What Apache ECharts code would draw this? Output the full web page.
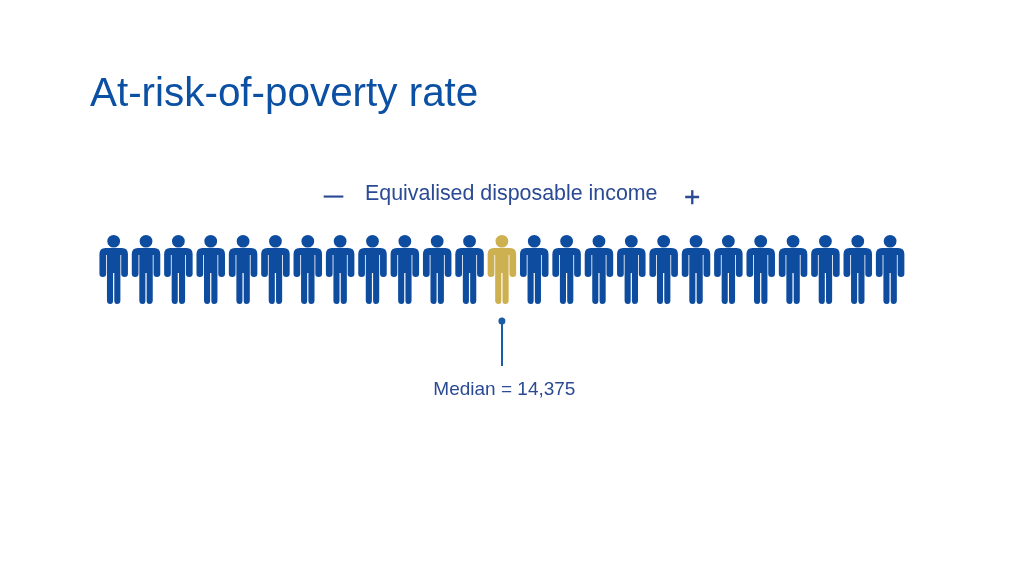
<!DOCTYPE html>
<html>
<head>
<meta charset="utf-8">
<title>At-risk-of-poverty rate</title>
<script src="https://cdn.jsdelivr.net/npm/echarts@6/dist/echarts.min.js"></script>
<style>
  html, body { margin: 0; padding: 0; background: #fff; }
  #chart { width: 1024px; height: 576px; }
</style>
</head>
<body>
<div id="chart"></div>
<script>
// 25 people ordered by income, the 13th one is the median
var people = ['1','2','3','4','5','6','7','8','9','10','11','12','13','14','15','16','17','18','19','20','21','22','23','24','25'];
var rowLevel = [34.5,34.5,34.5,34.5,34.5,34.5,34.5,34.5,34.5,34.5,34.5,34.5,34.5,34.5,34.5,34.5,34.5,34.5,34.5,34.5,34.5,34.5,34.5,34.5,34.5];
var medianPerson = '13';
var medianLabel = 'Median = 14,375';
var pointerRange = [86, 131];

var blue = '#0d4c9e';
var gold = '#cdb04f';
var textBlue = '#2b4a94';
var font = '"Liberation Sans", Arial, sans-serif';

var personPath = 'path://M6 13H22Q28 13 28 19V39Q28 42 24.7 42Q21.4 42 21.4 39V20H20.6V65.5Q20.6 69 17.2 69Q14.6 69 14.6 65.5V38H13.4V65.5Q13.4 69 10.8 69Q7.4 69 7.4 65.5V20H6.6V39Q6.6 42 3.3 42Q0 42 0 39V19Q0 13 6 13Z' +
  'M14 0A6.3 6.3 0 1 1 14 12.6A6.3 6.3 0 1 1 14 0Z';

function textOf(size, color) {
  return { color: color, fontSize: size, fontWeight: 'normal', fontFamily: font };
}

// the minus and plus are heavier than the regular weight
function heavyText(size, color, stroke) {
  var style = textOf(size, color);
  style.textBorderColor = color;
  style.textBorderWidth = stroke;
  return style;
}

var chart = echarts.init(document.getElementById('chart'));

chart.setOption({
  animation: false,
  backgroundColor: '#fff',
  title: [
    { text: 'At-risk-of-poverty rate', left: 85, top: 70, textStyle: textOf(40.4, '#0b50a3') },
    { text: 'Equivalised disposable income', left: 360, top: 179, textStyle: textOf(21.4, textBlue) },
    { text: '\u2014', left: 319, top: 181, textStyle: heavyText(19, textBlue, 0.7) },
    { text: '+', left: 679, top: 179, textStyle: heavyText(28, textBlue, 0.3) }
  ],
  grid: { left: 97.5, top: 235, width: 808.8, height: 131 },
  xAxis: { type: 'category', data: people, show: false },
  yAxis: { type: 'value', min: 0, max: 131, inverse: true, show: false },
  series: [{
    type: 'scatter',
    silent: true,
    clip: false,
    symbol: personPath,
    symbolSize: [28.5, 69],
    itemStyle: { opacity: 1 },
    data: rowLevel.map(function (v, i) {
      return {
        value: [people[i], v],
        itemStyle: { color: people[i] === medianPerson ? gold : blue, opacity: 1 }
      };
    }),
    markLine: {
      silent: true,
      animation: false,
      symbol: ['circle', 'none'],
      symbolSize: 7,
      lineStyle: { color: '#1a5ca6', width: 2, type: 'solid', opacity: 1 },
      label: {
        show: true,
        position: 'end',
        distance: 14,
        padding: [0, 0, 0, 5],
        formatter: medianLabel,
        color: textBlue,
        fontSize: 19,
        fontFamily: font
      },
      data: [[
        { xAxis: medianPerson, yAxis: pointerRange[0] },
        { xAxis: medianPerson, yAxis: pointerRange[1] }
      ]]
    }
  }]
});
</script>
</body>
</html>
